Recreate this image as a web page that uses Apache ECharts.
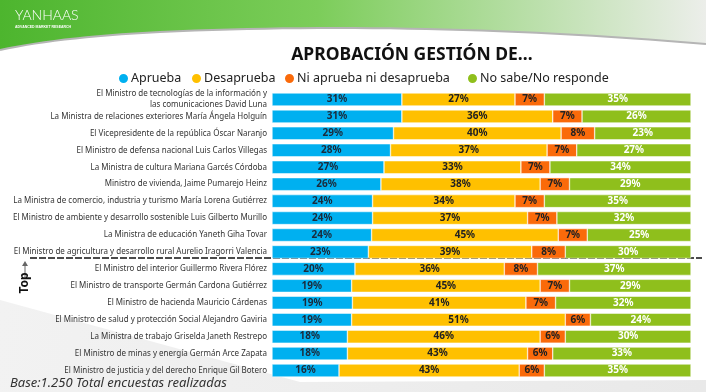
<!DOCTYPE html>
<html><head><meta charset="utf-8">
<script src="https://cdn.jsdelivr.net/npm/echarts@6/dist/echarts.min.js"></script>
<style>html,body{margin:0;padding:0;background:#fff}#c{width:706px;height:392px}</style>
</head><body><div id="c"></div>
<script>
const categories = [
  "El Ministro de tecnologías de la información y\nlas comunicaciones David Luna",
  "La Ministra de relaciones exteriores María Ángela Holguín",
  "El Vicepresidente de la república Óscar Naranjo",
  "El Ministro de defensa nacional Luis Carlos Villegas",
  "La Ministra de cultura Mariana Garcés Córdoba",
  "Ministro de vivienda, Jaime Pumarejo Heinz",
  "La Ministra de comercio, industria y turismo María Lorena Gutiérrez",
  "El Ministro de ambiente y desarrollo sostenible Luis Gilberto Murillo",
  "La Ministra de educación Yaneth Giha Tovar",
  "El Ministro de agricultura y desarrollo rural Aurelio Iragorri Valencia",
  "El Ministro del interior Guillermo Rivera Flórez",
  "El Ministro de transporte Germán Cardona Gutiérrez",
  "El Ministro de hacienda Mauricio Cárdenas",
  "El Ministro de salud y protección Social Alejandro Gaviria",
  "La Ministra de trabajo Griselda Janeth Restrepo",
  "El Ministro de minas y energía Germán Arce Zapata",
  "El Ministro de justicia y del derecho Enrique Gil Botero"
];
const aprueba      = [31,31,29,28,27,26,24,24,24,23,20,19,19,19,18,18,16];
const desaprueba   = [27,36,40,37,33,38,34,37,45,39,36,45,41,51,46,43,43];
const ninguno      = [7,7,8,7,7,7,7,7,7,8,8,7,7,6,6,6,6];
const noSabe       = [35,26,23,27,34,29,35,32,25,30,37,29,32,24,30,33,35];
const seriesNames = ["Aprueba","Desaprueba","Ni aprueba ni desaprueba","No sabe/No responde"];
const colors = ["#00B0F0","#FFC000","#FA6A0A","#8FBF1C"];
const labelColors = ["#1b2a3a","#222","#222","#fff"];

const all = [aprueba, desaprueba, ninguno, noSabe];
const totals = categories.map((_, i) => all.reduce((s, a) => s + a[i], 0));

// decorative header curve (quadratic bezier sampled)
function quad(p0, p1, p2, n) {
  const pts = [];
  for (let i = 0; i <= n; i++) {
    const t = i / n, u = 1 - t;
    pts.push([u*u*p0[0] + 2*u*t*p1[0] + t*t*p2[0], u*u*p0[1] + 2*u*t*p1[1] + t*t*p2[1]]);
  }
  return pts;
}
const edge = quad([706,44],[420,20],[160,32],30).concat(quad([160,32],[60,37],[0,50],15).slice(1));
const headerPts = [[0,0],[706,0]].concat(edge);

const FONT = "'Noto Sans', sans-serif";
const legendLefts = [112, 185, 278, 461];
const legends = seriesNames.map((n, k) => ({
  left: legendLefts[k], top: 67, itemWidth: 11, itemHeight: 11, icon: 'circle',
  textStyle: {fontSize: 12.5, color: '#222', padding: [0,0,0,-3], fontFamily: FONT},
  data: [n]
}));

const chart = echarts.init(document.getElementById('c'));
chart.setOption({
  animation: false,
  textStyle: {fontFamily: FONT},
  title: {
    text: "APROBACIÓN GESTIÓN DE…",
    left: 407, top: 41, textAlign: 'center',
    textStyle: {fontSize: 17.5, fontWeight: 'bold', color: '#111', fontFamily: FONT}
  },
  legend: legends,
  grid: {left: 272, right: 15, top: 91, height: 288, containLabel: false, outerBoundsMode: 'none'},
  xAxis: {type: 'value', min: 0, max: 100, show: false},
  yAxis: {
    type: 'category', inverse: true, data: categories,
    axisLine: {show: false}, axisTick: {show: false},
    axisLabel: {interval: 0, fontSize: 8, color: '#333', margin: 5, lineHeight: 11, align: 'right'}
  },
  series: all.map((arr, k) => ({
    name: seriesNames[k], type: 'bar', stack: 'a', barWidth: 13,
    itemStyle: {color: colors[k], borderColor: '#fff', borderWidth: 0.5},
    label: {
      show: true, position: 'inside', fontSize: 10, fontWeight: 'bold',
      color: labelColors[k], formatter: p => p.data.raw + '%'
    },
    data: arr.map((v, i) => ({value: v / totals[i] * 100, raw: v}))
  })),
  graphic: [
    {type: 'polygon', silent: true, z: -10,
     shape: {points: [[0,300],[0,392],[706,392],[706,380],[300,382]]},
     style: {fill: new echarts.graphic.LinearGradient(0,0,1,1,[{offset:0,color:'#f2f2f2'},{offset:1,color:'#e9e9e9'}])}},
    {type: 'polygon', silent: true, z: -5,
     shape: {points: headerPts},
     style: {fill: new echarts.graphic.LinearGradient(0,0,1,0,[{offset:0,color:'#4DB52E'},{offset:0.45,color:'#7ccd5a'},{offset:1,color:'#eceeea'}])}},
    {type: 'polyline', silent: true, z: -4,
     shape: {points: edge},
     style: {stroke: '#b5b5b5', lineWidth: 2}},
    {type: 'text', left: 15, top: 8, silent: true,
     style: {text: 'YANHAAS', fill: '#fff', font: '300 14px Lato, sans-serif'}},
    {type: 'text', left: 15, top: 25, silent: true,
     style: {text: 'ADVANCED MARKET RESEARCH', fill: '#fff', font: 'bold 3.5px sans-serif'}},
    {type: 'line', silent: true,
     shape: {x1: 30, y1: 258, x2: 702, y2: 258},
     style: {stroke: '#111', lineWidth: 1.5, lineDash: [7, 2]}},
    {type: 'line', silent: true,
     shape: {x1: 25, y1: 277, x2: 25, y2: 263},
     style: {stroke: '#666', lineWidth: 1}},
    {type: 'polygon', silent: true,
     shape: {points: [[22,266],[25,261],[28,266]]},
     style: {fill: '#666'}},
    {type: 'text', x: 25, y: 283, rotation: Math.PI / 2, silent: true,
     style: {text: 'Top', fill: '#111', font: 'bold 12px ' + FONT, align: 'center', verticalAlign: 'middle'}},
    {type: 'text', left: 10, top: 377, silent: true,
     style: {text: 'Base:1.250 Total encuestas realizadas', fill: '#333', font: 'italic 13px ' + FONT}}
  ]
});
</script></body></html>
